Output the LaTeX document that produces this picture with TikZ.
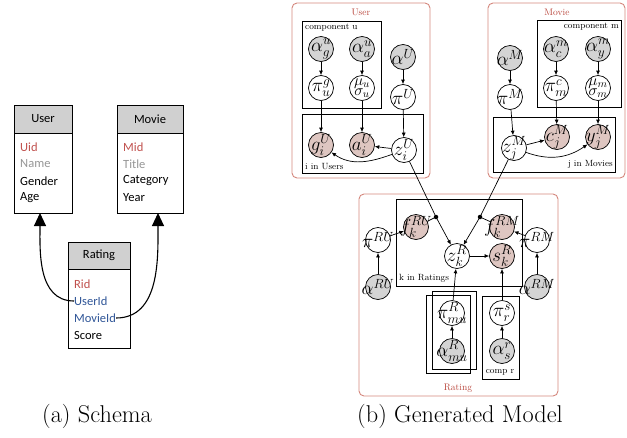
\RequirePackage{fix-cm}
\documentclass[tikz,border=0pt]{standalone}
\usepackage{fontspec}
\newfontfamily\carlito{Carlito}
\usetikzlibrary{arrows.meta,calc}
\definecolor{hdrgray}{RGB}{208,208,208}
\definecolor{fred}{RGB}{192,80,77}
\definecolor{fgray}{RGB}{150,150,150}
\definecolor{fblue}{RGB}{47,85,151}
\definecolor{boxred}{RGB}{212,135,125}
\definecolor{titred}{RGB}{185,70,60}
\definecolor{obspink}{RGB}{222,198,193}
\definecolor{hidgray}{RGB}{212,212,212}
\newcommand\fz[1]{\makebox[0pt]{#1}}
\begin{document}
\begin{tikzpicture}[x=1pt,y=-1pt,
  hdr/.style={draw, fill=hdrgray, inner sep=0pt, line width=0.8pt, font=\carlito\fontsize{12.5}{14}\selectfont},
  tbody/.style={draw, inner sep=0pt, line width=0.8pt},
  fld/.style={anchor=west, inner sep=0pt, font=\carlito\fontsize{12.5}{14}\selectfont},
  sarrow/.style={-{Triangle[length=13pt,width=12pt]}, line width=1.1pt},
  var/.style={circle, draw, fill=white, minimum size=25pt, inner sep=0pt, line width=0.7pt, font=\fontsize{19}{19}\selectfont},
  hid/.style={var, fill=hidgray},
  obs/.style={var, fill=obspink},
  arr/.style={-{Latex[length=4.5pt,width=4pt]}, line width=0.7pt},
  ln/.style={line width=0.7pt},
  plate/.style={draw, line width=0.7pt},
  rbox/.style={draw=boxred, line width=0.9pt, rounded corners=5pt},
  lbl/.style={inner sep=0pt, font=\fontsize{9}{10}\selectfont},
  ttl/.style={inner sep=0pt, text=titred, font=\fontsize{9.5}{10}\selectfont},
  dotc/.style={circle, fill=black, inner sep=0pt, minimum size=4.5pt},
  two/.style={var, font=\fontsize{15.5}{10}\selectfont}
]
\useasboundingbox (0,0) rectangle (627,437);

% ---------------- Schema ----------------
\node[hdr, minimum width=58pt, minimum height=28pt] (uh) at (43,119) {User};
\node[tbody, minimum width=58pt, minimum height=80pt] (ub) at (43,173) {};
\node[fld, text=fred] (uuid) at (20,147) {Uid};
\node[fld, text=fgray] (uname) at (20,164) {Name};
\node[fld] (ugender) at (20,181) {Gender};
\node[fld] (uage) at (20,198) {Age};

\node[hdr, minimum width=66pt, minimum height=28pt] (mh) at (150,119) {Movie};
\node[tbody, minimum width=66pt, minimum height=80pt] (mb) at (150,173) {};
\node[fld, text=fred] (mmid) at (123,147) {Mid};
\node[fld, text=fgray] (mtitle) at (123,164) {Title};
\node[fld] (mcat) at (123,181) {Category};
\node[fld] (myear) at (123,198) {Year};

\node[hdr, minimum width=62pt, minimum height=27pt] (rh) at (99,255.5) {Rating};
\node[tbody, minimum width=62pt, minimum height=79pt] (rb) at (99,308.5) {};
\node[fld, text=fred] (rrid) at (74,284) {Rid};
\node[fld, text=fblue] (ruid) at (74,301) {UserId};
\node[fld, text=fblue] (rmid) at (74,318) {MovieId};
\node[fld] (rscore) at (74,335) {Score};

\coordinate (ua) at (40,213);
\coordinate (ma) at (158,213);
\draw[sarrow] (ruid.west) to[out=180,in=-90] (ua);
\draw[sarrow] (rmid.east) to[out=0,in=-90] (ma);

\node[inner sep=0pt, font=\fontsize{24.3}{26}\selectfont] (capa) at (97,416) {(a) Schema};
\node[inner sep=0pt, font=\fontsize{24.3}{26}\selectfont] (capb) at (460,416) {(b) Generated Model};

% ---------------- User block ----------------
\draw[rbox] (292,3) rectangle (430,178);
\node[ttl] (tuser) at (361,12) {User};
\draw[plate] (302,21) rectangle (381,108);
\node[lbl, anchor=north west] (lcu) at (305,24) {component u};
\draw[plate] (302,114) rectangle (423,173);
\node[lbl, anchor=south west] (liu) at (305,170) {i in Users};

\node[hid] (agu) at (321,49) {\fz{$\alpha^u_g$}};
\node[hid] (aau) at (362,49) {\fz{$\alpha^u_a$}};
\node[hid] (aU) at (403,57) {\fz{$\alpha^U$}};
\node[var] (pgu) at (321,88) {\fz{$\pi^g_u$}};
\node[two] (msu) at (362,88) {\fz{\shortstack{$\mu_u$\\[-3pt]$\sigma_u$}}};
\node[var] (pU) at (403,97) {\fz{$\pi^U$}};
\node[obs] (giU) at (321,145) {\fz{$g^U_i$}};
\node[obs] (aiU) at (362,145) {\fz{$a^U_i$}};
\node[var] (ziU) at (404,150) {\fz{$z^U_i$}};

\draw[arr] (agu) -- (pgu);
\draw[arr] (aau) -- (msu);
\draw[arr] (aU) -- (pU);
\draw[arr] (pgu) -- (giU);
\draw[arr] (msu) -- (aiU);
\draw[arr] (pU) -- (ziU);
\draw[arr] (ziU) -- (aiU);
\draw[arr] (ziU) to[out=200,in=-35] (giU);

% ---------------- Movie block ----------------
\draw[rbox] (488,3) rectangle (625,178);
\node[ttl] (tmovie) at (557,12) {Movie};
\draw[plate] (537,20) rectangle (621,107);
\node[lbl, anchor=north east] (lcm) at (619,23) {component m};
\draw[plate] (493,117) rectangle (615,172);
\node[lbl, anchor=south east] (ljm) at (613,169) {j in Movies};

\node[hid] (aM) at (510,58) {\fz{$\alpha^M$}};
\node[hid] (acm) at (556,49) {\fz{$\alpha^m_c$}};
\node[hid] (aym) at (598,49) {\fz{$\alpha^m_y$}};
\node[var] (pM) at (510,97) {\fz{$\pi^M$}};
\node[var] (pcm) at (556,88) {\fz{$\pi^c_m$}};
\node[two] (msm) at (598,88) {\fz{\shortstack{$\mu_m$\\[-3pt]$\sigma_m$}}};
\node[var] (zjM) at (514,148) {\fz{$z^M_j$}};
\node[obs] (cjM) at (557,137) {\fz{$c^M_j$}};
\node[obs] (yjM) at (598,137) {\fz{$y^M_j$}};

\draw[arr] (aM) -- (pM);
\draw[arr] (acm) -- (pcm);
\draw[arr] (aym) -- (msm);
\draw[arr] (pM) -- (zjM);
\draw[arr] (pcm) -- (cjM);
\draw[arr] (msm) -- (yjM);
\draw[arr] (zjM) -- (cjM);
\draw[arr] (zjM) to[out=-20,in=-145] (yjM);

% ---------------- Rating block ----------------
\draw[rbox] (359,194) rectangle (558,396);
\node[ttl] (trating) at (458,388) {Rating};
\draw[plate] (396,199) rectangle (522,286);
\node[lbl, anchor=south west] (lkr) at (399,283) {k in Ratings};
\draw[plate] (426,295) rectangle (470,373);
\draw[plate] (432,291) rectangle (476,369);
\draw[plate] (482,296) rectangle (519,379);
\node[lbl] (lcr) at (500,372) {comp r};

\node[obs] (fRU) at (416,227) {\fz{$f^{RU}_k$}};
\node[obs] (fRM) at (502,227) {\fz{$f^{RM}_k$}};
\node[var] (zkR) at (457,256) {\fz{$z^R_k$}};
\node[obs] (skR) at (502,256) {\fz{$s^R_k$}};
\node[var] (pRU) at (378,240) {\fz{$\pi^{RU}$}};
\node[var] (pRM) at (537,240) {\fz{$\pi^{RM}$}};
\node[hid] (aRU) at (378,287) {\fz{$\alpha^{RU}$}};
\node[hid] (aRM) at (537,287) {\fz{$\alpha^{RM}$}};
\node[var] (pmu) at (452,313) {\fz{$\pi^R_{mu}$}};
\node[hid] (amu) at (452,351) {\fz{$\alpha^R_{mu}$}};
\node[var] (psr) at (502,313) {\fz{$\pi^s_r$}};
\node[hid] (asr) at (502,351) {\fz{$\alpha^r_s$}};

\node[dotc] (dl) at (436,217) {};
\node[dotc] (dr) at (480,217) {};

\draw[ln] (ziU) -- (dl.center);
\draw[ln] (zjM) -- (dr.center);
\draw[ln] (dl.center) -- (fRU);
\draw[ln] (dr.center) -- (fRM);
\draw[arr] (dl.center) -- (zkR);
\draw[arr] (dr.center) -- (zkR);
\draw[arr] (zkR) -- (skR);
\draw[arr] (pRU) -- (fRU);
\draw[arr] (pRM) -- (fRM);
\draw[arr] (aRU) -- (pRU);
\draw[arr] (aRM) -- (pRM);
\draw[arr] (amu) -- (pmu);
\draw[arr] (pmu) -- (zkR);
\draw[arr] (asr) -- (psr);
\draw[arr] (psr) -- (skR);
\end{tikzpicture}
\end{document}
